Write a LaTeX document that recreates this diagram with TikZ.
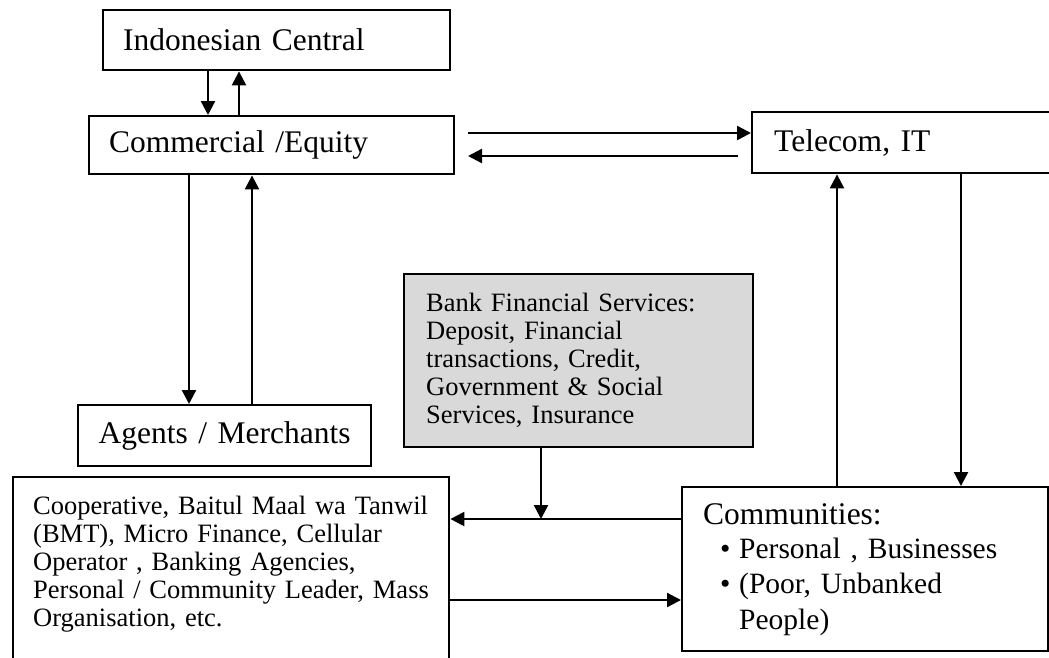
\documentclass[tikz,border=0pt]{standalone}
\usepackage{fontspec}
\setmainfont{Liberation Serif}
\usetikzlibrary{arrows.meta}
\begin{document}
\begin{tikzpicture}[x=1pt,y=-1pt,
  box/.style={draw, line width=2.4pt, anchor=north west, align=left, inner ysep=0pt},
  big/.style={font=\fontsize{31.5}{35}\selectfont},
  small/.style={font=\fontsize{26.5}{28}\selectfont},
  arr/.style={line width=2.4pt, -{Triangle[length=14pt,width=14pt]}}]
\useasboundingbox (0,0) rectangle (1049,657);
\clip (0,0) rectangle (1049,657);
\fill[white] (0,0) rectangle (1049,657);

% boxes
\node[box, big, inner xsep=20pt, text width=307pt, minimum height=60pt] (ic) at (102,9) {Indonesian Central};
\node[box, big, inner xsep=20pt, text width=325pt, minimum height=58pt] (ce) at (88,115) {Commercial /Equity};
\node[box, big, inner xsep=22pt, text width=306pt, minimum height=61pt] (tel) at (751,111) {Telecom, IT};
\node[box, big, align=center, inner xsep=10pt, text width=273pt, minimum height=61pt] (ag) at (77,404) {Agents / Merchants};
\node[box, small, fill=gray!30, inner xsep=22pt, text width=305pt, minimum height=173pt] (bank) at (403,273)
  {Bank Financial Services:\\ Deposit, Financial\\ transactions, Credit,\\ Government \& Social\\ Services, Insurance};
\node[box, small, inner xsep=20pt, inner ysep=19pt, text width=396pt, text depth=180pt] (coop) at (12,476)
  {\mbox{Cooperative, Baitul Maal wa Tanwil}\\ (BMT), Micro Finance, Cellular\\ Operator , Banking Agencies,\\ \mbox{Personal / Community Leader, Mass}\\ Organisation, etc.};
\node[box, font=\fontsize{29.5}{35}\selectfont, inner xsep=21pt, text width=324pt, minimum height=164pt] (comm) at (681,486)
  {{\fontsize{31.5}{35}\selectfont Communities:}\\
   \hspace*{17pt}\makebox[19pt][l]{\textbullet}Personal , Businesses\\
   \hspace*{17pt}\makebox[19pt][l]{\textbullet}(Poor, Unbanked\\
   \hspace*{36pt}People)};

% connector positions
\coordinate (v1) at (208,0);
\coordinate (v2) at (239,0);
\coordinate (v3) at (189,0);
\coordinate (v4) at (252,0);
\coordinate (v5) at (837,0);
\coordinate (v6) at (961,0);
\coordinate (v7) at (541,0);
\coordinate (hs) at (468,0);
\coordinate (he) at (738,0);
\coordinate (h1) at (0,133);
\coordinate (h2) at (0,156);
\coordinate (h3) at (0,519);
\coordinate (h4) at (0,600);

% connectors
\draw[arr] (v1 |- ic.south) -- (v1 |- ce.north);
\draw[arr] (v2 |- ce.north) -- (v2 |- ic.south);
\draw[arr] (v3 |- ce.south) -- (v3 |- ag.north);
\draw[arr] (v4 |- ag.north) -- (v4 |- ce.south);
\draw[arr] (hs |- h1) -- (tel.west |- h1);
\draw[arr] (he |- h2) -- (hs |- h2);
\draw[arr] (v5 |- comm.north) -- (v5 |- tel.south);
\draw[arr] (v6 |- tel.south) -- (v6 |- comm.north);
\draw[arr] (comm.west |- h3) -- (coop.east |- h3);
\draw[arr] (v7 |- bank.south) -- (v7 |- h3);
\draw[arr] (coop.east |- h4) -- (comm.west |- h4);
\end{tikzpicture}
\end{document}
